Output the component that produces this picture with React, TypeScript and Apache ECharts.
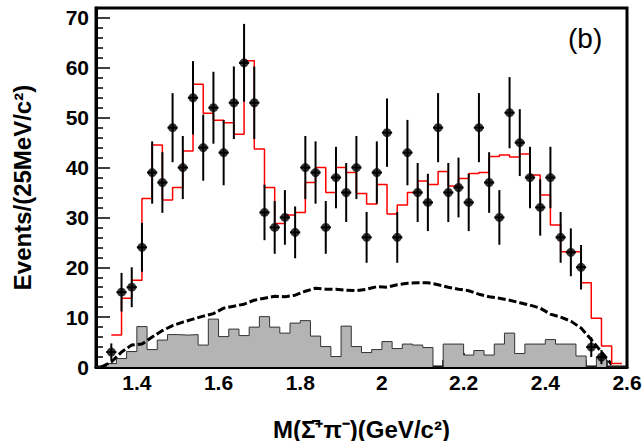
import React, { useEffect, useRef } from "react";
import * as echarts from "echarts";

// Mass window and binning (GeV/c^2)
const massLo = 1.3;
const massHi = 2.6;
const binWidth = 0.025;

// Observed events, first point at 1.3375
const dataCounts = [
  3, 15, 16, 24, 39, 37, 48, 40, 54, 44,
  52, 43, 53, 61, 53, 31, 28, 30, 27, 40,
  39, 28, 38, 35, 40, 26, 39, 47, 26, 43,
  35, 33, 48, 35, 36, 33, 48, 37, 30, 51,
  45, 38, 32, 38, 26, 23, 20, 4, 2,
];

// Fit result histogram, steps starting at 1.3375
const fitCounts = [
  6.4, 13.8, 17.4, 33.8, 44.5, 33.5, 36.0, 43.3, 56.7, 50.9,
  49.5, 49.0, 46.7, 61.4, 43.7, 36.0, 28.8, 30.5, 31.0, 37.0,
  40.0, 35.0, 40.0, 39.0, 34.8, 32.7, 36.6, 30.7, 32.5, 35.0,
  37.3, 36.6, 39.2, 36.3, 37.8, 38.8, 39.0, 42.2, 42.5, 42.1,
  42.7, 38.5, 34.5, 28.5, 23.1, 23.1, 16.9, 9.8, 4.2, 0.7,
];

// Non-resonant background (dashed), bin centres from 1.3125
const bkgCurve = [
  0, 1.0, 3.0, 4.4, 4.6, 6.0, 7.3, 8.3, 9.0, 9.6,
  10.2, 10.7, 11.8, 12.2, 12.6, 13.4, 13.8, 14.2, 14.1, 14.4,
  15.2, 15.8, 15.6, 15.6, 15.4, 15.3, 15.6, 16.1, 16.0, 16.5,
  16.8, 16.9, 16.9, 16.5, 16.0, 15.6, 15.3, 14.6, 14.1, 13.8,
  13.4, 12.9, 12.4, 11.8, 10.6, 10.0, 9.2, 7.8, 5.5, 3.0, 0.5,
];

// Sideband estimate (grey histogram), bins from 1.3
const sidebandCounts = [
  0, 0.7, 1.7, 3.1, 8.1, 3.5, 5.4, 6.5, 6.4, 6.5,
  4.4, 9.6, 6.1, 7.6, 6.3, 8.0, 10.1, 8.0, 6.8, 8.8,
  9.3, 6.2, 4.1, 2.1, 8.2, 4.1, 2.9, 3.5, 5.1, 3.7,
  4.6, 4.4, 3.9, 0, 4.6, 4.6, 2.4, 3.3, 2.4, 4.6,
  6.8, 2.7, 4.6, 4.6, 5.5, 4.6, 4.6, 2.2, 0, 2.0,
  0, 0,
];

const FONT = "'Liberation Sans', Arial, Helvetica, sans-serif";

export default function App() {
  const ref = useRef<HTMLDivElement>(null);

  useEffect(() => {
    if (!ref.current) return;
    const chart = echarts.init(ref.current, null, { renderer: "svg" });

    const pointX = (i: number) => massLo + binWidth * (i + 1.5);
    const points = dataCounts.map((v, i) => [pointX(i), v, Math.sqrt(v)]);

    const fitSteps = fitCounts.map((v, k) => [pointX(k), v]);
    fitSteps.push([pointX(fitCounts.length), fitCounts[fitCounts.length - 1]]);

    const sbSteps = sidebandCounts.map((v, k) => [massLo + binWidth * k, v]);
    sbSteps.push([massHi, sidebandCounts[sidebandCounts.length - 1]]);

    const bkg = bkgCurve.map((v, k) => [massLo + binWidth * (k + 0.5), v]);

    chart.setOption({
      animation: false,
      grid: {
        left: 96,
        right: 16,
        top: 8,
        bottom: 74,
        outerBoundsMode: "none",
        show: true,
        borderColor: "#000",
        borderWidth: 3,
        backgroundColor: "transparent",
      },
      xAxis: {
        type: "value",
        min: massLo,
        max: massHi,
        splitNumber: 6,
        name: "M(Σ̄⁺π⁻)(GeV/c²)",
        nameLocation: "middle",
        nameGap: 50,
        nameTextStyle: { fontSize: 24, fontWeight: "bold", color: "#000", fontFamily: FONT },
        axisLine: { onZero: false, lineStyle: { color: "#000", width: 3 } },
        axisTick: { inside: true, length: 14, lineStyle: { color: "#000", width: 1.5 } },
        minorTick: { show: true, splitNumber: 4, length: 7, lineStyle: { color: "#000", width: 1.5 } },
        splitLine: { show: false },
        axisLabel: {
          showMinLabel: false,
          fontSize: 21,
          fontWeight: "bold",
          color: "#000",
          fontFamily: FONT,
          margin: 5,
        },
      },
      yAxis: {
        type: "value",
        min: 0,
        max: 72,
        interval: 10,
        name: "Events/(25MeV/c²)",
        nameLocation: "middle",
        nameGap: 62,
        nameTextStyle: { fontSize: 24, fontWeight: "bold", color: "#000", fontFamily: FONT },
        axisLine: { onZero: false, lineStyle: { color: "#000", width: 3 } },
        axisTick: { inside: true, length: 14, lineStyle: { color: "#000", width: 1.5 } },
        minorTick: { show: true, splitNumber: 5, length: 7, lineStyle: { color: "#000", width: 1.5 } },
        splitLine: { show: false },
        axisLabel: {
          showMaxLabel: false,
          fontSize: 21,
          fontWeight: "bold",
          color: "#000",
          fontFamily: FONT,
          margin: 7,
        },
      },
      graphic: [
        {
          type: "text",
          left: 568,
          top: 24,
          style: { text: "(b)", fontSize: 28, fill: "#000", fontFamily: FONT },
        },
      ],
      series: [
        {
          type: "line",
          step: "end",
          data: sbSteps,
          symbol: "none",
          lineStyle: { color: "#333", width: 1 },
          areaStyle: { color: "#b4b4b4", opacity: 1 },
          z: 1,
        },
        {
          type: "line",
          data: bkg,
          symbol: "none",
          lineStyle: { color: "#000", width: 3, type: [8, 3] },
          z: 2,
        },
        {
          type: "line",
          step: "end",
          data: fitSteps,
          symbol: "none",
          lineStyle: { color: "#ff0000", width: 1.5 },
          z: 3,
        },
        {
          type: "custom",
          data: points,
          z: 4,
          renderItem: (_p: any, api: any) => {
            const x = api.value(0);
            const y = api.value(1);
            const e = api.value(2);
            const top = api.coord([x, y + e]);
            const bot = api.coord([x, Math.max(y - e, 0)]);
            const l = api.coord([x - binWidth / 2, y]);
            const r = api.coord([x + binWidth / 2, y]);
            return {
              type: "group",
              children: [
                {
                  type: "line",
                  shape: { x1: top[0], y1: top[1], x2: bot[0], y2: bot[1] },
                  style: { stroke: "#000", lineWidth: 2 },
                },
                {
                  type: "line",
                  shape: { x1: l[0], y1: l[1], x2: r[0], y2: r[1] },
                  style: { stroke: "#000", lineWidth: 2 },
                },
              ],
            };
          },
        },
        {
          type: "scatter",
          data: points.map((p) => [p[0], p[1]]),
          symbol: "circle",
          symbolSize: 9,
          itemStyle: { color: "#000" },
          z: 5,
        },
      ],
    });

    return () => chart.dispose();
  }, []);

  return (
    <div
      ref={ref}
      style={{ position: "fixed", left: 0, top: 0, width: 643, height: 441, background: "#fff" }}
    />
  );
}
